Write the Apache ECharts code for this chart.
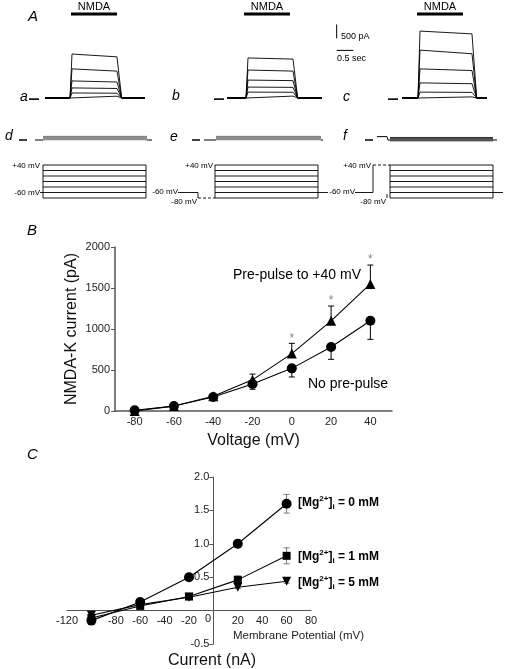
<!DOCTYPE html>
<html><head><meta charset="utf-8">
<script src="https://cdn.jsdelivr.net/npm/echarts@6/dist/echarts.min.js"></script>
<style>html,body{margin:0;padding:0;background:#fff}#c{width:507px;height:669px}</style>
</head><body><div id="c"></div>
<script>
const FONT = '"Liberation Sans", Arial, sans-serif';

// ---------- Panel A data ----------
// current step amplitudes (pA) at NMDA onset and at NMDA offset, per column a, b, c
const ampsStartA = [1570, 1040, 610, 360, 180, 70];
const ampsEndA   = [1470, 960, 570, 340, 170, 65];
const ampsStartB = [1430, 1000, 640, 390, 210, 70];
const ampsEndB   = [1390, 960, 620, 380, 205, 68];
const ampsStartC = [2390, 1710, 1040, 540, 210, 40];
const ampsEndC   = [2290, 1580, 980, 510, 200, 40];
const pulseOffSec = [1.41, 1.41, 1.62];
const traceSpanSec = [[-0.75, 2.25], [-0.57, 2.28], [-0.48, 2.07]];
const zeroMarkSec = [[-1.23, -0.93], [-0.96, -0.66], [-0.9, -0.6]];
const nmdaSpanSec = [[0.03, 1.41], [-0.06, 1.32], [-0.03, 1.35]];
const nmdaLevelPA = 3000;
const scaleBarPA = 500;
const scaleBarSec = 0.5;
// leak traces d, e, f
const leakSpanSec = [[-1.05, 2.46], [-1.26, 2.31], [-1.23, 2.37]];
const leakBandSec = [[-0.81, 2.31], [-0.9, 2.25], [-0.84, 2.25]];
const leakZeroMarkSec = [[-1.53, -1.29], [-1.62, -1.38], [-1.59, -1.35]];
const leakBandPA = [10, 40, 70, 100, 130];
const fPreStepSec = [-1.23, -0.93];
const fPreStepPA = 120;
// voltage protocols
const stepLevelsMV = [40, 20, 0, -20, -40, -60, -80];
const stepSpanSec = [[-0.81, 2.28], [-0.93, 2.16], [-0.84, 2.25]];
const holdMV = -60;
const preLowMV = -80;
const preHighMV = 40;
const dHoldStartSec = -0.9;
const ePreSec = [-2.04, -1.44];
const fPreSec = [-1.89, -1.35];
const eTailEndSec = 2.46;
const fTailEndSec = 2.55;

// ---------- Panel B data ----------
const voltB = [-80, -60, -40, -20, 0, 20, 40];
const noPrePulse = [10, 60, 170, 330, 520, 780, 1100];
const noPrePulseErr = [0, 0, 0, 65, 105, 150, 226];
const prePulse = [0, 60, 180, 380, 700, 1100, 1550];
const prePulseErr = [0, 0, 20, 70, 125, 180, 230];
const starVolts = [0, 20, 40];

// ---------- Panel C data ----------
const voltC = [-100, -60, -20, 20, 60];
const mg0 = [-0.15, 0.13, 0.5, 1.0, 1.6];
const mg0Err = [0, 0.02, 0.02, 0.06, 0.14];
const mg1 = [-0.11, 0.07, 0.21, 0.46, 0.82];
const mg1Err = [0, 0, 0.02, 0.06, 0.12];
const mg5 = [-0.07, 0.09, 0.2, 0.35, 0.44];
const mg5Err = [0, 0, 0, 0.02, 0.03];

// ---------- build ----------
const PX = 33.33;            // px per second in panel A
const X0 = [70, 246, 418];   // pixel of t = 0 in each column
const grids = [], xAxes = [], yAxes = [], series = [], graphics = [];

function addGrid(col, xmin, xmax, yPx, yRef, ymin, ymax, k) {
  const idx = grids.length;
  grids.push({left: X0[col] + xmin * PX, width: (xmax - xmin) * PX,
              top: yPx - (ymax - yRef) * k, height: (ymax - ymin) * k, containLabel: false});
  xAxes.push({gridIndex: idx, type: 'value', min: xmin, max: xmax, show: false});
  yAxes.push({gridIndex: idx, type: 'value', min: ymin, max: ymax, show: false});
  return idx;
}
function line(idx, data, o = {}) {
  series.push({type: 'line', xAxisIndex: idx, yAxisIndex: idx, data, symbol: 'none', silent: true,
    animation: false, clip: false, z: o.z || 2,
    lineStyle: {color: o.color || '#000', width: o.width || 1, type: o.type || 'solid'}});
}
function txt(text, x, y, size, o = {}) {
  graphics.push({type: 'text', silent: true, style: Object.assign({text, x, y,
    font: (o.style || '') + ' ' + (o.weight || 'normal') + ' ' + size + 'px ' + FONT,
    fill: o.fill || '#000', align: o.align || 'left', verticalAlign: o.va || 'middle'}, o.extra || {})});
}

// Row 1: NMDA current traces
const starts = [ampsStartA, ampsStartB, ampsStartC];
const ends = [ampsEndA, ampsEndB, ampsEndC];
const r1Range = [[-1.3, 2.3], [-1.0, 3.4], [-0.95, 2.1]];
for (let c = 0; c < 3; c++) {
  const g = addGrid(c, r1Range[c][0], r1Range[c][1], 98, 0, -150, 3150, 0.028);
  const off = pulseOffSec[c];
  line(g, [[traceSpanSec[c][0], 0], [0, 0]], {width: 2});
  for (let j = 0; j < starts[c].length; j++) {
    line(g, [[0, 0], [0.06, starts[c][j]], [off, ends[c][j]], [off + 0.14, 0], [traceSpanSec[c][1], 0]], {width: 0.9});
  }
  line(g, [[zeroMarkSec[c][0], -40], [zeroMarkSec[c][1], -40]], {width: 1.6});
  line(g, [[nmdaSpanSec[c][0], nmdaLevelPA], [nmdaSpanSec[c][1], nmdaLevelPA]], {width: 3});
  if (c === 1) {
    // scale bar
    const sx = 2.72, sy = 1700;
    line(g, [[sx, sy + 12 / 0.028], [sx, sy + 12 / 0.028 + scaleBarPA]], {width: 1});
    line(g, [[sx, sy], [sx + scaleBarSec, sy]], {width: 1});
  }
}

// Row 2: leak traces
const r2Range = [[-1.6, 2.5], [-1.7, 2.4], [-1.65, 2.45]];
for (let c = 0; c < 3; c++) {
  const g = addGrid(c, r2Range[c][0], r2Range[c][1], 140, 0, -100, 300, 0.028);
  line(g, [[leakZeroMarkSec[c][0], 0], [leakZeroMarkSec[c][1], 0]], {width: 1.6});
  if (c === 2) {
    line(g, [[fPreStepSec[0], fPreStepPA], [fPreStepSec[1], fPreStepPA], [fPreStepSec[1] + 0.03, 0], [leakBandSec[c][0], 0]], {width: 1});
  } else {
    line(g, [[leakSpanSec[c][0], 0], [leakBandSec[c][0], 0]], {width: 1});
  }
  line(g, [[leakBandSec[c][1], 0], [leakSpanSec[c][1], 0]], {width: 1});
  for (const lv of leakBandPA) {
    line(g, [[leakBandSec[c][0], c === 2 ? lv - 40 : lv], [leakBandSec[c][1], c === 2 ? lv - 40 : lv]],
      {width: 1, color: c === 2 ? '#333' : '#777'});
  }
}

// Row 3: voltage protocols
const r3Range = [[-0.95, 2.4], [-2.1, 2.5], [-2.0, 2.6]];
for (let c = 0; c < 3; c++) {
  const g = addGrid(c, r3Range[c][0], r3Range[c][1], 192.5, -60, -90, 50, 0.275);
  const [b0, b1] = stepSpanSec[c];
  for (const v of stepLevelsMV) line(g, [[b0, v], [b1, v]], {width: 0.9});
  line(g, [[b0, preLowMV], [b0, preHighMV]], {width: 0.9});
  line(g, [[b1, preLowMV], [b1, preHighMV]], {width: 0.9});
  if (c === 0) {
    line(g, [[dHoldStartSec, holdMV], [b0, holdMV]], {width: 0.9});
  } else if (c === 1) {
    line(g, [[ePreSec[0], holdMV], [ePreSec[1], holdMV], [ePreSec[1], preLowMV]], {width: 0.9});
    line(g, [[ePreSec[1], preLowMV], [b0, preLowMV]], {width: 0.9, type: [3, 2]});
    line(g, [[b1, holdMV], [eTailEndSec, holdMV]], {width: 0.9});
  } else {
    line(g, [[fPreSec[0], holdMV], [fPreSec[1], holdMV], [fPreSec[1], preHighMV]], {width: 0.9});
    line(g, [[fPreSec[1], preHighMV], [b0, preHighMV]], {width: 0.9, type: [3, 2]});
    line(g, [[b0 - 0.09, preLowMV], [b0 - 0.09, preLowMV + 14]], {width: 0.9});
    line(g, [[b1, holdMV], [fTailEndSec, holdMV]], {width: 0.9});
  }
}

// ---------- Panel B ----------
const gB = grids.length;
grids.push({left: 115, top: 247, width: 277, height: 164, containLabel: false});
xAxes.push({gridIndex: gB, type: 'value', min: -90, max: 51, interval: 10, position: 'bottom',
  axisLine: {onZero: false, lineStyle: {color: '#555', width: 1.5}}, axisTick: {show: false}, splitLine: {show: false},
  axisLabel: {formatter: v => (v % 20 === 0 && v >= -80 && v <= 40) ? String(v) : '', fontSize: 11, color: '#222', fontFamily: FONT, margin: 5},
  name: 'Voltage (mV)', nameLocation: 'middle', nameGap: 22,
  nameTextStyle: {fontSize: 16, color: '#111', fontFamily: FONT, verticalAlign: 'top'}});
yAxes.push({gridIndex: gB, type: 'value', min: 0, max: 2000, interval: 500, position: 'left',
  axisLine: {show: true, onZero: false, lineStyle: {color: '#555', width: 1.5}},
  axisTick: {show: true, length: 4, lineStyle: {color: '#555', width: 1}}, splitLine: {show: false},
  axisLabel: {formatter: v => String(v), fontSize: 11, color: '#222', fontFamily: FONT, margin: 5},
  name: 'NMDA-K current (pA)', nameLocation: 'middle', nameGap: 35, nameMoveOverlap: false,
  nameTextStyle: {fontSize: 16, color: '#111', fontFamily: FONT}});

function errBars(g, xs, ys, errs, dir, color, cap) {
  series.push({type: 'custom', xAxisIndex: g, yAxisIndex: g, silent: true, animation: false, z: 1,
    data: xs.map((x, i) => [x, ys[i], errs[i]]),
    renderItem(params, api) {
      const x = api.value(0), y = api.value(1), e = api.value(2);
      if (!e) return null;
      const lo = dir === 'up' ? y : y - e, hi = dir === 'down' ? y : y + e;
      const p1 = api.coord([x, lo]), p2 = api.coord([x, hi]);
      const st = {stroke: color, lineWidth: 1};
      const ch = [{type: 'line', shape: {x1: p1[0], y1: p1[1], x2: p2[0], y2: p2[1]}, style: st}];
      if (dir !== 'up') ch.push({type: 'line', shape: {x1: p1[0] - cap, y1: p1[1], x2: p1[0] + cap, y2: p1[1]}, style: st});
      if (dir !== 'down') ch.push({type: 'line', shape: {x1: p2[0] - cap, y1: p2[1], x2: p2[0] + cap, y2: p2[1]}, style: st});
      return {type: 'group', children: ch};
    }});
}
function dataLine(g, xs, ys, symbol, size, rot) {
  series.push({type: 'line', xAxisIndex: g, yAxisIndex: g, silent: true, animation: false, z: 3,
    data: xs.map((x, i) => [x, ys[i]]), symbol, symbolSize: size, symbolRotate: rot || 0,
    itemStyle: {color: '#000'}, lineStyle: {color: '#000', width: 1.1}});
}
errBars(gB, voltB, noPrePulse, noPrePulseErr, 'down', '#000', 3);
errBars(gB, voltB, prePulse, prePulseErr, 'up', '#000', 3);
dataLine(gB, voltB, noPrePulse, 'circle', 10);
dataLine(gB, voltB, prePulse, 'triangle', 10);
series.push({type: 'custom', xAxisIndex: gB, yAxisIndex: gB, silent: true, animation: false, z: 4,
  data: starVolts.map(v => { const i = voltB.indexOf(v); return [v, prePulse[i] + prePulseErr[i]]; }),
  renderItem(params, api) {
    const p = api.coord([api.value(0), api.value(1)]);
    return {type: 'text', style: {text: '*', x: p[0], y: p[1] - 5, fill: '#888', font: '12px ' + FONT, align: 'center', verticalAlign: 'middle'}};
  }});

// ---------- Panel C ----------
const gC = grids.length;
const cLeft = 67, cTop = 477, cW = 244, cH = 167;
const cxMin = -120, cxMax = 80, cyMin = -0.5, cyMax = 2.0;
grids.push({left: cLeft, top: cTop, width: cW, height: cH, containLabel: false});
// axes cross at the origin: shift them with offset
const yAxisShift = (0 - cxMin) / (cxMax - cxMin) * cW;
const xAxisShift = (0 - cyMin) / (cyMax - cyMin) * cH;
xAxes.push({gridIndex: gC, type: 'value', min: cxMin, max: cxMax, interval: 20, position: 'bottom', offset: -xAxisShift,
  axisLine: {onZero: false, lineStyle: {color: '#555', width: 1}}, axisTick: {show: false}, splitLine: {show: false},
  axisLabel: {formatter: v => (v === -100 || v === 0) ? '' : String(v), fontSize: 11, color: '#222', fontFamily: FONT, margin: 5}});
yAxes.push({gridIndex: gC, type: 'value', min: cyMin, max: cyMax, interval: 0.5, position: 'left', offset: -yAxisShift,
  axisLine: {show: true, onZero: false, lineStyle: {color: '#555', width: 1}},
  axisTick: {show: true, length: 4, lineStyle: {color: '#555'}}, splitLine: {show: false},
  axisLabel: {formatter: v => v === 0 ? '' : v.toFixed(1), fontSize: 11, color: '#222', fontFamily: FONT, margin: 4}});
errBars(gC, voltC, mg0, mg0Err, 'both', '#777', 3);
errBars(gC, voltC, mg1, mg1Err, 'both', '#777', 3);
errBars(gC, voltC, mg5, mg5Err, 'both', '#777', 3);
dataLine(gC, voltC, mg0, 'circle', 10);
dataLine(gC, voltC, mg1, 'rect', 8);
dataLine(gC, voltC, mg5, 'triangle', 9, 180);

// ---------- texts ----------
txt('A', 28, 17, 15, {style: 'italic'});
txt('B', 27, 231, 15, {style: 'italic'});
txt('C', 27, 455, 15, {style: 'italic'});
[['a', 20, 97], ['b', 172, 96], ['c', 343, 97], ['d', 5, 136], ['e', 170, 137], ['f', 343, 136]]
  .forEach(([t, x, y]) => txt(t, x, y, 14, {style: 'italic'}));
[94, 267, 440].forEach(x => txt('NMDA', x, 7, 11, {align: 'center'}));
txt('500 pA', 341, 37, 9);
txt('0.5 sec', 337, 59, 9);
// protocol labels
txt('+40 mV', 40, 166, 8, {align: 'right'});
txt('-60 mV', 40, 193, 8, {align: 'right'});
txt('+40 mV', 213, 166, 8, {align: 'right'});
txt('-60 mV', 178, 192, 8, {align: 'right'});
txt('-80 mV', 197, 202, 8, {align: 'right'});
txt('+40 mV', 371, 166, 8, {align: 'right'});
txt('-60 mV', 355, 192, 8, {align: 'right'});
txt('-80 mV', 386, 202, 8, {align: 'right'});
// panel B annotations
txt('Pre-pulse to +40 mV', 233, 275, 14);
txt('No pre-pulse', 308, 384, 14);
// panel C annotations
txt('0', 208, 619, 11, {align: 'center', fill: '#222'});
txt('Membrane Potential (mV)', 233, 636, 11.5, {fill: '#222'});
txt('Current (nA)', 168, 661, 16, {fill: '#111'});
const mgRich = {
  b: {fontSize: 12, fontWeight: 'bold', fontFamily: FONT, lineHeight: 16, fill: '#000'},
  sup: {fontSize: 8, fontWeight: 'bold', fontFamily: FONT, lineHeight: 8, verticalAlign: 'top', fill: '#000'},
  sub: {fontSize: 8, fontWeight: 'bold', fontFamily: FONT, lineHeight: 8, verticalAlign: 'bottom', fill: '#000'}
};
[['0', 503], ['1', 557], ['5', 583]].forEach(([m, y]) => {
  graphics.push({type: 'text', silent: true, style: {x: 298, y, verticalAlign: 'middle',
    text: '{b|[Mg}{sup|2+}{b|]}{sub|i}{b| = ' + m + ' mM}', rich: mgRich}});
});

const chart = echarts.init(document.getElementById('c'), null, {renderer: 'canvas'});
chart.setOption({
  animation: false,
  backgroundColor: '#fff',
  textStyle: {fontFamily: FONT},
  grid: grids, xAxis: xAxes, yAxis: yAxes, series,
  graphic: {elements: graphics}
});
</script></body></html>
